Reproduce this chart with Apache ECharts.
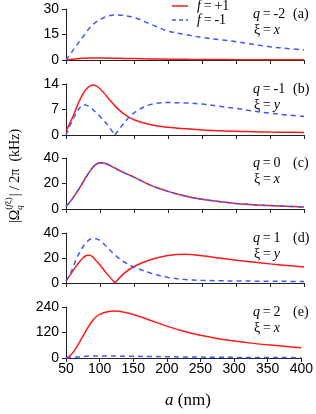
<!DOCTYPE html>
<html><head><meta charset="utf-8">
<script src="https://cdn.jsdelivr.net/npm/echarts@6/dist/echarts.min.js"></script>
<style>html,body{margin:0;padding:0;background:#fff}#c{width:316px;height:414px}</style>
</head><body><div id="c"></div>
<script>
// shared x values (a in nm)
const aNm = [50,55,60,65,70,75,80,85,90,95,100,110,122,135,150,175,200,225,250,275,300,325,350,375,400];
const xTicks = [50,100,150,200,250,300,350,400];

// panel (a) q=-2, xi=x
const redA  = [0,0.3,0.5,0.7,0.9,1.0,1.1,1.2,1.2,1.2,1.2,1.1,1.0,0.95,0.85,0.65,0.5,0.4,0.3,0.25,0.2,0.15,0.12,0.1,0.1];
const blueA = [0,2.8,5.5,8.3,11,13.7,16.5,19,21,22.6,23.8,25.6,26.5,26.2,25,21,17,15,13.3,12,10.8,9.2,7.8,6.8,5.9];
// panel (b) q=-1, xi=y
const redB  = [1.0,3.0,5.0,7.3,9.5,11.3,12.6,13.4,13.7,13.4,12.7,10.6,8.0,5.8,4.2,2.8,2.1,1.7,1.4,1.2,1.0,0.9,0.8,0.75,0.7];
const blueB = [0,2.2,4.2,6.0,7.4,8.3,8.2,7.6,6.9,6.0,5.1,3.0,0,3.2,6.1,8.4,8.9,8.8,8.5,7.9,7.3,6.6,6.0,5.5,5.1];
// panel (c) q=0, xi=x
const redC  = [2,5,8.5,12.5,16.5,21,25.5,29.5,33,35.3,36.3,35.3,32,28.5,25,18.5,13.8,10.2,7.6,5.8,4.4,3.4,2.7,2.1,1.6];
const blueC = [2,5,8.5,12.5,16.5,21,25.5,29.5,33,35.3,36.3,35.3,32,28.5,25,18.5,13.8,10.2,7.6,5.8,4.4,3.4,2.7,2.1,1.6];
// panel (d) q=1, xi=y
const redD  = [2,5.5,9.5,13.5,17,20,22,22.3,20.5,17.5,14.4,7.5,0,7.5,13.2,18.8,22,23,21.8,20,18.2,16.8,15.3,14,12.8];
const blueD = [1.5,6,12,19,24.5,29,32.5,34.8,35.7,35.3,34,29,22.4,17,12.8,7.8,4.5,2.8,2.1,1.8,1.6,1.5,1.4,1.3,1.2];
// panel (e) q=2, xi=x
const redE  = [0,8,24,48,74,102,130,156,178,194,205,216,221,217,205,178,150,126,107,92,80,70,62,55,48];
const blueE = [0,1.5,3,4.5,6,7,8,8.5,9,9,9,9,9,8.5,8,7,6,5,4.3,3.6,3,2.6,2.2,1.9,1.7];

const yMaxs = [30,14,40,40,240];
const yIntervals = [15,7,20,20,120];
const qLabels = ['-2','-1','0','1','2'];
const xiLabels = ['x','y','x','y','x'];
const tags = ['(a)','(b)','(c)','(d)','(e)'];
const reds = [redA, redB, redC, redD, redE];
const blues = [blueA, blueB, blueC, blueD, blueE];
const redCusps = [[],[],[],[12],[]];
const blueCusps = [[],[12],[],[],[]];

const RED = '#ff1a1a', BLUE = '#3d5afe';
const tops = [9,84,158,233,307];
const heights = [51,51,51,50,51];
const LEFT = 66, RIGHT = 12;
const SANS = '"Liberation Sans", Arial, sans-serif';
const SERIF = '"Liberation Serif", "Times New Roman", serif';

const chart = echarts.init(document.getElementById('c'), null, {renderer:'canvas'});

const grids = [], xAxes = [], yAxes = [], series = [];
function segs(ys, cusps){
  const cuts = [0].concat(cusps).concat([ys.length-1]);
  const out = [];
  for (let k=0;k<cuts.length-1;k++){
    const d=[];
    for (let i=cuts[k]; i<=cuts[k+1]; i++) d.push([aNm[i], ys[i]]);
    out.push(d);
  }
  return out;
}
for (let p=0;p<5;p++){
  grids.push({left:LEFT, right:RIGHT, top:tops[p], height:heights[p], containLabel:false});
  xAxes.push({type:'value', gridIndex:p, min:50, max:400, interval:50,
    axisLine:{show:true, onZero:false, lineStyle:{color:'#222', width:1}},
    axisTick:{show:true, inside:false, length:4, lineStyle:{color:'#222'}},
    axisLabel:{show:p===4, margin:4, color:'#000', fontSize:14, fontFamily:SANS},
    splitLine:{show:false}});
  yAxes.push({type:'value', gridIndex:p, min:0, max:yMaxs[p], interval:yIntervals[p],
    axisLine:{show:true, lineStyle:{color:'#222', width:1}},
    axisTick:{show:true, inside:false, length:4, lineStyle:{color:'#222'}},
    axisLabel:{show:true, margin:7, color:'#000', fontSize:14, fontFamily:SANS},
    splitLine:{show:false}});
  segs(reds[p], redCusps[p]).forEach(d=>series.push({type:'line', xAxisIndex:p, yAxisIndex:p, data:d,
    smooth:0.35, symbol:'none', lineStyle:{color:RED, width:1.5}, z:2, animation:false}));
  segs(blues[p], blueCusps[p]).forEach(d=>series.push({type:'line', xAxisIndex:p, yAxisIndex:p, data:d,
    smooth:0.35, symbol:'none', lineStyle:{color:BLUE, width:1.5, type:[5,4]}, z:3, animation:false}));
}

const ctx = document.createElement('canvas').getContext('2d');
function tw(t, font){ ctx.font = font; return ctx.measureText(t).width; }

function runText(x, y, pieces, size){
  const out = [];
  let cx = x;
  pieces.forEach(([t, it])=>{
    const f = (it ? 'italic ' : '') + size + 'px ' + SERIF;
    out.push({type:'text', x:cx, y:y, style:{text:t, font:f, fill:'#000', textAlign:'left', textVerticalAlign:'middle'}});
    cx += tw(t, f);
  });
  return out;
}

const TS = '\u2009';
const graphics = [];
for (let p=0;p<5;p++){
  runText(253, tops[p]+5, [['q',true],[TS+'='+TS+qLabels[p],false]], 14).forEach(g=>graphics.push(g));
  runText(293, tops[p]+5, [[tags[p],false]], 14).forEach(g=>graphics.push(g));
  runText(254, tops[p]+21, [['\u03be'+TS+'='+TS,false],[xiLabels[p],true]], 14).forEach(g=>graphics.push(g));
}
// legend
graphics.push({type:'line', shape:{x1:172,y1:6,x2:188,y2:6}, style:{stroke:RED, lineWidth:1.5}});
graphics.push({type:'line', shape:{x1:172,y1:20,x2:188,y2:20}, style:{stroke:BLUE, lineWidth:1.5, lineDash:[4,3]}});
runText(197, 6, [['f',true],[TS+'='+TS+'+1',false]], 14).forEach(g=>graphics.push(g));
runText(197, 20, [['f',true],[TS+'='+TS+'-1',false]], 14).forEach(g=>graphics.push(g));
// x title
const xtW = tw('a','italic 17px '+SERIF) + tw(' (nm)','17px '+SERIF);
runText(188 - xtW/2, 401, [['a',true],[' (nm)',false]], 17).forEach(g=>graphics.push(g));

// y title (rotated group)
const F14 = '14px ' + SERIF, F9 = '9px ' + SERIF, F9i = 'italic 9px ' + SERIF;
const p1 = '|\u03a9', p2 = '| / 2\u03c0  (kHz)';
const w1 = tw(p1, F14), w2 = tw(p2, F14);
const wsup = tw('(', F9) + tw('f', F9i) + tw('\u03be)', F9);
const wsub = tw('q', F9i);
const wmid = Math.max(wsup, wsub) + 1;
const total = w1 + wmid + w2;
const x0 = -total/2;
const sx = x0 + w1;
const kids = [
  {type:'text', x:x0, y:0, style:{text:p1, font:F14, fill:'#000', textVerticalAlign:'middle'}},
  {type:'text', x:sx, y:-6, style:{text:'(', font:F9, fill:'#000', textVerticalAlign:'middle'}},
  {type:'text', x:sx+tw('(',F9), y:-6, style:{text:'f', font:F9i, fill:'#000', textVerticalAlign:'middle'}},
  {type:'text', x:sx+tw('(',F9)+tw('f',F9i), y:-6, style:{text:'\u03be)', font:F9, fill:'#000', textVerticalAlign:'middle'}},
  {type:'text', x:sx, y:5, style:{text:'q', font:F9i, fill:'#000', textVerticalAlign:'middle'}},
  {type:'text', x:sx+wmid, y:0, style:{text:p2, font:F14, fill:'#000', textVerticalAlign:'middle'}}
];
graphics.push({type:'group', x:15, y:176, rotation:Math.PI/2, children:kids});

chart.setOption({
  animation:false,
  backgroundColor:'#fff',
  grid:grids, xAxis:xAxes, yAxis:yAxes, series:series,
  graphic:{elements:graphics}
});
</script>
</body></html>
